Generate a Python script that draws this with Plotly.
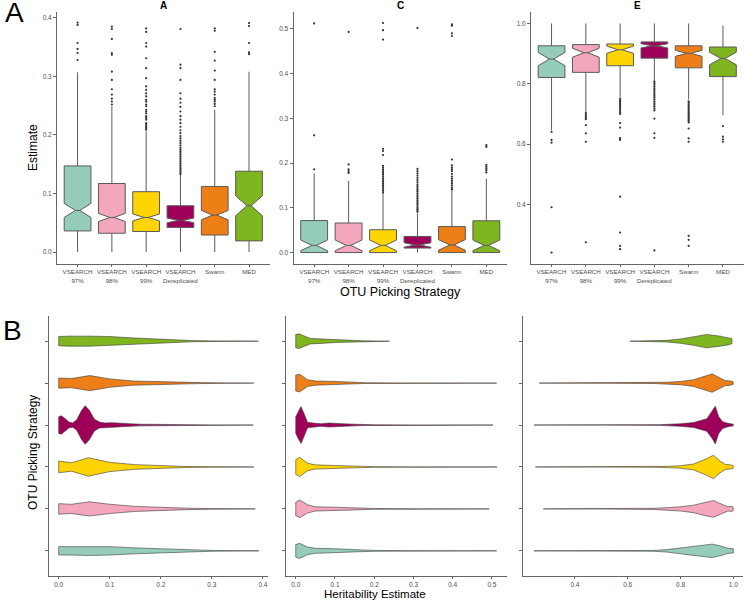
import plotly.graph_objects as go

W, H = 744, 601

strategies = ["VSEARCH<br>97%", "VSEARCH<br>98%", "VSEARCH<br>99%",
              "VSEARCH<br>Dereplicated", "Swarm", "MED"]
colors = ["#95CDBA", "#F3A6BC", "#FFD400", "#9E0059", "#EE7E16", "#7FB51E"]

a_q1 = [0.036, 0.032, 0.035, 0.042, 0.029, 0.019]
a_med = [0.071, 0.059, 0.059, 0.054, 0.063, 0.079]
a_q3 = [0.147, 0.117, 0.103, 0.079, 0.112, 0.138]
a_lo = [0.0, 0.0, 0.0, 0.0, 0.0, 0.0]
a_hi = [0.307, 0.249, 0.206, 0.132, 0.243, 0.308]
a_notch = [0.012, 0.007, 0.006, 0.004, 0.008, 0.017]
a_out = [
    [0.392, 0.388, 0.357, 0.347, 0.340, 0.328],
    [0.385, 0.381, 0.364, 0.340, 0.337, 0.308, 0.294, 0.278, 0.269, 0.262, 0.257, 0.252],
    [0.382, 0.376, 0.357, 0.351, 0.331, 0.314, 0.297, 0.283, 0.277, 0.271, 0.266, 0.260,
     0.257, 0.252, 0.249, 0.243, 0.240, 0.237, 0.232, 0.229, 0.226, 0.220, 0.218, 0.215,
     0.212, 0.209],
    [0.381, 0.320, 0.314, 0.294, 0.271, 0.262, 0.255, 0.248, 0.240, 0.232, 0.226, 0.220,
     0.214, 0.208, 0.203, 0.198, 0.194, 0.190, 0.186, 0.182, 0.178, 0.175, 0.172, 0.169,
     0.166, 0.163, 0.160, 0.157, 0.154, 0.151, 0.148, 0.145, 0.142, 0.139, 0.136, 0.133],
    [0.382, 0.378, 0.342, 0.327, 0.310, 0.294, 0.278, 0.274, 0.269, 0.263, 0.260, 0.257,
     0.253, 0.249],
    [0.391, 0.386, 0.357, 0.341, 0.338],
]

c_q1 = [0.0, 0.0, 0.0, 0.010, 0.0, 0.0]
c_med = [0.016, 0.016, 0.016, 0.017, 0.017, 0.016]
c_q3 = [0.0715, 0.066, 0.051, 0.036, 0.058, 0.071]
c_lo = [0.0, 0.0, 0.0, 0.0, 0.0, 0.0]
c_hi = [0.177, 0.160, 0.132, 0.087, 0.139, 0.165]
c_notch = [0.012, 0.012, 0.012, 0.005, 0.012, 0.012]
c_out = [
    [0.512, 0.262, 0.186],
    [0.493, 0.197, 0.186, 0.182, 0.178],
    [0.513, 0.497, 0.476, 0.232, 0.227, 0.218, 0.194, 0.190, 0.186, 0.182, 0.178, 0.174,
     0.170, 0.166, 0.162, 0.158, 0.154, 0.150, 0.146, 0.142, 0.138, 0.134],
    [0.502, 0.187, 0.182, 0.177, 0.172, 0.167, 0.162, 0.157, 0.152, 0.148, 0.144, 0.140,
     0.136, 0.132, 0.128, 0.124, 0.120, 0.116, 0.112, 0.108, 0.104, 0.100, 0.097, 0.094,
     0.091],
    [0.510, 0.507, 0.490, 0.484, 0.208, 0.195, 0.190, 0.186, 0.182, 0.176, 0.170, 0.165,
     0.160, 0.155, 0.150, 0.145, 0.141],
    [0.240, 0.236, 0.196, 0.192, 0.188, 0.184, 0.179],
]

e_q1 = [0.821, 0.838, 0.860, 0.885, 0.853, 0.824]
e_med = [0.882, 0.903, 0.913, 0.926, 0.901, 0.884]
e_q3 = [0.926, 0.930, 0.932, 0.939, 0.926, 0.922]
e_lo = [0.647, 0.704, 0.754, 0.812, 0.748, 0.696]
e_hi = [1.0, 1.0, 1.0, 1.0, 1.0, 0.993]
e_notch = [0.022, 0.015, 0.012, 0.007, 0.010, 0.021]
e_out = [
    [0.641, 0.614, 0.605, 0.391, 0.241],
    [0.703, 0.698, 0.693, 0.688, 0.683, 0.663, 0.636, 0.608, 0.275],
    [0.750, 0.745, 0.740, 0.735, 0.730, 0.725, 0.720, 0.715, 0.710, 0.705, 0.700, 0.670,
     0.655, 0.620, 0.614, 0.426, 0.307, 0.263, 0.252],
    [0.808, 0.802, 0.796, 0.790, 0.784, 0.778, 0.772, 0.766, 0.760, 0.754, 0.748, 0.742,
     0.736, 0.730, 0.724, 0.718, 0.712, 0.685, 0.636, 0.621, 0.248],
    [0.742, 0.737, 0.732, 0.727, 0.722, 0.717, 0.712, 0.707, 0.702, 0.697, 0.692, 0.687,
     0.682, 0.677, 0.672, 0.652, 0.619, 0.608, 0.296, 0.283, 0.263],
    [0.660, 0.625, 0.616, 0.608],
]

# --- violin outlines (estimate, half-width in category units) ---------------
va_x = [
    [0, 0.02, 0.06, 0.10, 0.15, 0.20, 0.25, 0.30, 0.35, 0.392],
    [0, 0.025, 0.06, 0.10, 0.15, 0.20, 0.25, 0.30, 0.35, 0.385],
    [0, 0.025, 0.058, 0.10, 0.15, 0.20, 0.25, 0.30, 0.382],
    [0, 0.005, 0.012, 0.02, 0.027, 0.035, 0.045, 0.052, 0.06, 0.07, 0.08, 0.09, 0.105,
     0.12, 0.14, 0.16, 0.20, 0.25, 0.30, 0.381],
    [0, 0.025, 0.061, 0.10, 0.146, 0.21, 0.276, 0.33, 0.382],
    [0, 0.02, 0.06, 0.10, 0.14, 0.18, 0.22, 0.26, 0.30, 0.35, 0.391],
]
va_w = [
    [0.10, 0.10, 0.11, 0.10, 0.07, 0.045, 0.025, 0.01, 0.004, 0.0],
    [0.125, 0.11, 0.17, 0.11, 0.06, 0.035, 0.018, 0.008, 0.003, 0.0],
    [0.14, 0.10, 0.22, 0.11, 0.055, 0.025, 0.012, 0.004, 0.0],
    [0.20, 0.22, 0.16, 0.07, 0.05, 0.12, 0.35, 0.46, 0.35, 0.14, 0.07, 0.05, 0.055, 0.04,
     0.03, 0.02, 0.012, 0.008, 0.003, 0.0],
    [0.12, 0.11, 0.18, 0.10, 0.05, 0.024, 0.012, 0.004, 0.0],
    [0.11, 0.12, 0.12, 0.11, 0.08, 0.055, 0.035, 0.015, 0.006, 0.003, 0.0],
]
vc_x = [
    [0, 0.01, 0.03, 0.05, 0.10, 0.15, 0.20, 0.30, 0.40, 0.512],
    [0, 0.01, 0.03, 0.05, 0.10, 0.15, 0.20, 0.30, 0.493],
    [0, 0.01, 0.03, 0.05, 0.10, 0.15, 0.20, 0.30, 0.513],
    [0, 0.005, 0.0135, 0.02, 0.03, 0.05, 0.065, 0.085, 0.10, 0.12, 0.15, 0.18, 0.20,
     0.30, 0.503],
    [0, 0.01, 0.03, 0.05, 0.10, 0.13, 0.18, 0.25, 0.35, 0.512],
    [0, 0.008, 0.037, 0.071, 0.105, 0.13, 0.173, 0.239],
]
vc_w = [
    [0.15, 0.18, 0.09, 0.06, 0.05, 0.025, 0.01, 0.003, 0.001, 0.0],
    [0.16, 0.21, 0.10, 0.05, 0.04, 0.025, 0.01, 0.002, 0.0],
    [0.175, 0.23, 0.09, 0.05, 0.035, 0.02, 0.008, 0.002, 0.0],
    [0.20, 0.30, 0.44, 0.30, 0.065, 0.04, 0.03, 0.048, 0.035, 0.03, 0.02, 0.012, 0.005,
     0.001, 0.0],
    [0.19, 0.21, 0.08, 0.05, 0.04, 0.024, 0.008, 0.003, 0.001, 0.0],
    [0.16, 0.175, 0.065, 0.05, 0.03, 0.016, 0.008, 0.0],
]
ve_x = [
    [0.245, 0.50, 0.70, 0.75, 0.80, 0.85, 0.90, 0.92, 0.95, 0.98, 1.0],
    [0.28, 0.50, 0.70, 0.75, 0.80, 0.85, 0.90, 0.925, 0.95, 0.98, 0.995, 1.0],
    [0.25, 0.50, 0.70, 0.75, 0.80, 0.85, 0.90, 0.925, 0.95, 0.97, 0.99, 1.0],
    [0.245, 0.50, 0.72, 0.80, 0.85, 0.90, 0.92, 0.932, 0.945, 0.96, 0.98, 1.0],
    [0.265, 0.50, 0.70, 0.75, 0.80, 0.85, 0.90, 0.92, 0.95, 0.97, 0.99, 1.0],
    [0.608, 0.65, 0.70, 0.75, 0.80, 0.85, 0.90, 0.95, 0.98, 0.995],
]
ve_w = [
    [0.0, 0.002, 0.01, 0.03, 0.07, 0.11, 0.15, 0.16, 0.12, 0.06, 0.05],
    [0.0, 0.002, 0.015, 0.03, 0.05, 0.09, 0.17, 0.20, 0.13, 0.05, 0.06, 0.04],
    [0.0, 0.002, 0.008, 0.015, 0.03, 0.07, 0.20, 0.28, 0.14, 0.06, 0.05, 0.03],
    [0.0, 0.001, 0.008, 0.03, 0.06, 0.15, 0.32, 0.45, 0.20, 0.08, 0.04, 0.02],
    [0.0, 0.002, 0.01, 0.02, 0.04, 0.08, 0.18, 0.22, 0.12, 0.06, 0.05, 0.03],
    [0.0, 0.004, 0.008, 0.02, 0.05, 0.10, 0.16, 0.12, 0.09, 0.06],
]

FONT = "Liberation Sans, Arial, sans-serif"
TICK_FONT = dict(family=FONT, size=6.5, color="#4D4D4D")
AXIS_LINE = "#666666"


def xdom(a, b):
    return [a / W, b / W]


def ydom(top, bottom):
    return [1 - bottom / H, 1 - top / H]


fig = go.Figure()

top_panels = [
    ("x", "y", a_q1, a_med, a_q3, a_lo, a_hi, a_notch, a_out),
    ("x2", "y2", c_q1, c_med, c_q3, c_lo, c_hi, c_notch, c_out),
    ("x3", "y3", e_q1, e_med, e_q3, e_lo, e_hi, e_notch, e_out),
]
for xa, ya, q1, med, q3, lo, hi, notch, out in top_panels:
    for i in range(6):
        fig.add_trace(go.Box(
            x=[i + 1], q1=[q1[i]], median=[med[i]], q3=[q3[i]],
            lowerfence=[lo[i]], upperfence=[hi[i]], notchspan=[notch[i]],
            notched=True, notchwidth=0.42, width=0.78, whiskerwidth=0,
            fillcolor=colors[i], line=dict(color="#5A5A5A", width=1),
            boxpoints=False, xaxis=xa, yaxis=ya, showlegend=False, hoverinfo="skip",
        ))
    px, py = [], []
    for i, pts in enumerate(out):
        px += [i + 1] * len(pts)
        py += pts
    fig.add_trace(go.Scatter(
        x=px, y=py, mode="markers", xaxis=xa, yaxis=ya, showlegend=False,
        marker=dict(size=2.2, color="#333333"), hoverinfo="skip",
    ))

bottom_panels = [("x4", "y4", va_x, va_w), ("x5", "y5", vc_x, vc_w), ("x6", "y6", ve_x, ve_w)]
for xa, ya, vx, vw in bottom_panels:
    for i in range(6):
        pos = i + 1
        xs = vx[i] + vx[i][::-1] + [vx[i][0]]
        ys = [pos + w for w in vw[i]] + [pos - w for w in vw[i][::-1]] + [pos + vw[i][0]]
        fig.add_trace(go.Scatter(
            x=xs, y=ys, mode="lines", fill="toself", fillcolor=colors[i],
            line=dict(color="#3A3A3A", width=0.6), xaxis=xa, yaxis=ya,
            showlegend=False, hoverinfo="skip",
        ))

common = dict(showline=True, linecolor=AXIS_LINE, linewidth=1, ticks="outside",
              ticklen=3, tickcolor=AXIS_LINE, tickfont=TICK_FONT, showgrid=False,
              zeroline=False, automargin=False)
box_x = dict(common, range=[0.4, 6.6], tickvals=[1, 2, 3, 4, 5, 6],
             ticktext=strategies, tickangle=0, ticklen=2,
             tickfont=dict(TICK_FONT, size=6.2))
num_ax = dict(common, tickformat=".1f")
vio_x = dict(num_ax, ticklen=2)
vio_y = dict(common, range=[0.4, 6.6], tickvals=[1, 2, 3, 4, 5, 6],
             showticklabels=False)

top_y = ydom(12, 264)
bot_y = ydom(316, 576)

fig.update_layout(
    width=W, height=H, margin=dict(l=0, r=0, t=0, b=0, autoexpand=False),
    paper_bgcolor="white", plot_bgcolor="white",
    xaxis=dict(box_x, domain=xdom(57, 269.6), anchor="y"),
    yaxis=dict(num_ax, domain=top_y, anchor="x", range=[-0.0205, 0.41],
               tickvals=[0, 0.1, 0.2, 0.3, 0.4]),
    xaxis2=dict(box_x, domain=xdom(293.5, 507), anchor="y2"),
    yaxis2=dict(num_ax, domain=top_y, anchor="x2", range=[-0.0256, 0.5376],
                tickvals=[0, 0.1, 0.2, 0.3, 0.4, 0.5]),
    xaxis3=dict(box_x, domain=xdom(531, 743.5), anchor="y3"),
    yaxis3=dict(num_ax, domain=top_y, anchor="x3", range=[0.203, 1.038],
                tickvals=[0.4, 0.6, 0.8, 1.0]),
    xaxis4=dict(vio_x, domain=xdom(49, 268), anchor="y4", range=[-0.019, 0.41],
                tickvals=[0, 0.1, 0.2, 0.3, 0.4]),
    yaxis4=dict(vio_y, domain=bot_y, anchor="x4"),
    xaxis5=dict(vio_x, domain=xdom(285.7, 506.7), anchor="y5", range=[-0.0256, 0.5376],
                tickvals=[0, 0.1, 0.2, 0.3, 0.4, 0.5]),
    yaxis5=dict(vio_y, domain=bot_y, anchor="x5"),
    xaxis6=dict(vio_x, domain=xdom(522.7, 743), anchor="y6", range=[0.202, 1.037],
                tickvals=[0.4, 0.6, 0.8, 1.0]),
    yaxis6=dict(vio_y, domain=bot_y, anchor="x6"),
)


def label(text, px, py, size, angle=0, bold=False, anchor="middle"):
    if bold:
        text = f"<b>{text}</b>"
    fig.add_annotation(
        text=text, x=px / W, y=1 - py / H, xref="paper", yref="paper",
        showarrow=False, textangle=angle, xanchor="center", yanchor=anchor,
        borderpad=0, font=dict(family=FONT, size=size, color="black"),
    )


label("A", 14, 13, 28)
label("B", 12, 330, 28)
label("A", 163, 6, 10, bold=True)
label("C", 400, 6, 10, bold=True)
label("E", 637, 6, 10, bold=True)
label("Estimate", 33, 148, 12, angle=-90)
label("OTU Picking Strategy", 400, 292, 12.5)
label("OTU Picking Strategy", 33, 453, 12, angle=-90)
label("Heritability Estimate", 375, 601, 11.5, anchor="bottom")

# the page body gets the browser's default 8px margin; drop it
fig.write_html("out.html", config={"displayModeBar": False},
               post_script="document.body.style.margin='0';")
